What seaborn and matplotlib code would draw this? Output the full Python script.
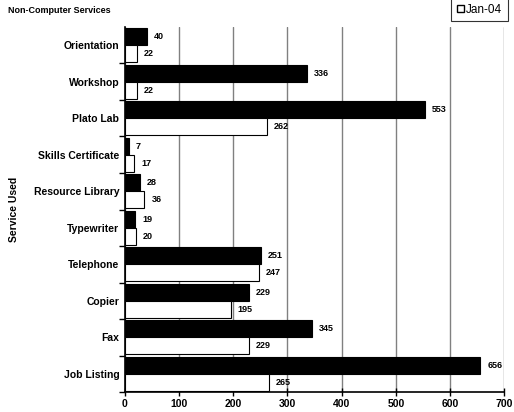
import pandas as pd
import numpy as np
import seaborn as sns
import matplotlib.pyplot as plt
from matplotlib.patches import Patch

# Datos
servicios = ['Orientation', 'Workshop', 'Plato Lab', 'Skills Certificate',
             'Resource Library', 'Typewriter', 'Telephone', 'Copier', 'Fax',
             'Job Listing']
serie_negra = [40, 336, 553, 7, 28, 19, 251, 229, 345, 656]
serie_blanca = [22, 22, 262, 17, 36, 20, 247, 195, 229, 265]
nombres = ['Dec-03', 'Jan-04']

df = pd.DataFrame({
    'Service': servicios * 2,
    'Count': serie_negra + serie_blanca,
    'Month': [nombres[0]] * len(servicios) + [nombres[1]] * len(servicios),
})

sns.set_style('white')
plt.rcParams['font.family'] = ['Liberation Sans', 'DejaVu Sans']
plt.rcParams['text.color'] = 'black'
plt.rcParams['axes.labelcolor'] = 'black'
plt.rcParams['xtick.color'] = 'black'
plt.rcParams['ytick.color'] = 'black'

fig = plt.figure(figsize=(5.14, 4.12), dpi=100)
ax = fig.add_axes([0.243, 0.0485, 0.738, 0.886])

sns.barplot(data=df, y='Service', x='Count', hue='Month', orient='h',
            palette=['black', 'white'], edgecolor='black', linewidth=0.8,
            width=0.93, ax=ax, legend=False, zorder=3)

# etiquetas de valores
for cont in ax.containers:
    ax.bar_label(cont, padding=5, fontsize=6.5, fontweight='bold')

ax.set_xlim(0, 700)
ax.set_ylim(len(servicios) - 0.5, -0.5)
ax.set_xticks(range(0, 701, 100))
ax.xaxis.grid(True, color='#808080', linewidth=1, zorder=0)
ax.set_axisbelow(True)

# marcas del eje y entre categorias (estilo Excel)
ax.set_yticks(np.arange(len(servicios)) + 0.5, minor=True)
ax.tick_params(axis='y', which='major', length=0, pad=4)
ax.tick_params(axis='y', which='minor', length=4, width=1, direction='out', color='black', left=True)
ax.tick_params(axis='x', length=6, width=1, direction='inout', color='black', bottom=True, pad=2)

for lab in ax.get_yticklabels() + ax.get_xticklabels():
    lab.set_fontweight('bold')
    lab.set_fontsize(7.5)
    lab.set_color('black')

for s in ['top', 'right']:
    ax.spines[s].set_visible(False)
for s in ['left', 'bottom']:
    ax.spines[s].set_color('black')
    ax.spines[s].set_linewidth(1.2)

ax.set_xlabel('')
ax.set_ylabel('Service Used', fontsize=7.5, fontweight='bold')
ax.yaxis.set_label_coords(-0.28, 0.5)

fig.text(0.016, 0.974, 'Non-Computer Services', fontsize=6.5, fontweight='bold',
         va='center', ha='left')

leg = fig.legend(handles=[Patch(facecolor='white', edgecolor='black', label='Jan-04')],
                 loc='upper right', bbox_to_anchor=(1.0, 1.02), fontsize=8.5,
                 frameon=True, fancybox=False, handlelength=0.55, handleheight=0.55,
                 handletextpad=0.2, borderpad=0.5)
leg.get_frame().set_edgecolor('black')
leg.get_frame().set_linewidth(0.8)

fig.savefig('out.png', dpi=100)
